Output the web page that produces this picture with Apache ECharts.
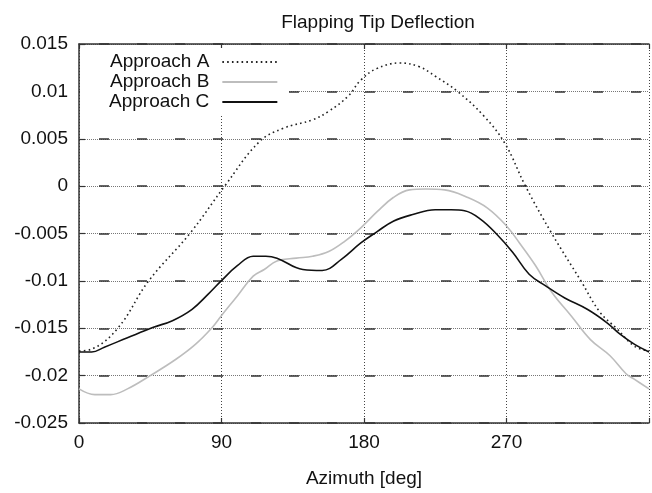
<!DOCTYPE html>
<html>
<head>
<meta charset="utf-8">
<script src="https://cdn.jsdelivr.net/npm/echarts@6/dist/echarts.min.js"></script>
<style>html,body{margin:0;padding:0;background:#fff;}#c{width:652px;height:493px;}</style>
</head>
<body>
<div id="c"></div>
<script>
const seriesNames = ['Approach A', 'Approach B', 'Approach C'];
const xTicks = [0, 90, 180, 270];
const yTicks = [-0.025, -0.02, -0.015, -0.01, -0.005, 0, 0.005, 0.01, 0.015];

const xA = [0, 8, 24.5, 44, 70, 92, 114, 129, 147.5, 157.7, 170, 178, 188, 202.6, 215, 225, 239, 255.7, 269, 282, 298.6, 317, 329, 339.4, 350.9, 360];
const yA = [-0.0174, -0.0172, -0.015, -0.010, -0.005, 0.0, 0.0047, 0.0061, 0.0070, 0.0079, 0.0095, 0.0112, 0.0124, 0.0130, 0.0126, 0.0116, 0.0100, 0.0074, 0.0045, 0.0, -0.005, -0.010, -0.0133, -0.015, -0.0169, -0.0174];

const xB = [0, 10, 20, 30.6, 45, 61, 73.5, 83.7, 89.8, 100, 110, 117, 125, 137.3, 147.5, 157.7, 168, 178, 188.3, 198.5, 208.7, 219, 231, 245.5, 257.8, 270, 278.2, 288.4, 298.6, 310.9, 323, 335.4, 345.5, 350.9, 360];
const yB = [-0.0214, -0.0220, -0.0220, -0.0214, -0.0200, -0.0183, -0.0167, -0.0150, -0.0137, -0.0116, -0.0095, -0.0088, -0.0079, -0.0076, -0.0074, -0.0069, -0.0058, -0.0044, -0.0027, -0.0012, -0.0004, -0.0003, -0.0004, -0.0012, -0.0023, -0.0042, -0.0060, -0.0084, -0.0112, -0.0137, -0.0162, -0.0179, -0.0198, -0.0204, -0.0214];

const xC = [0, 8, 16, 30.6, 47, 59, 71.4, 81.6, 89.8, 100, 110, 118, 125, 141.4, 153.6, 165.9, 178, 188.3, 198.5, 210.8, 225, 235, 243.5, 253.7, 264, 274, 284.3, 294.5, 306.8, 321, 333.3, 341.5, 350.9, 360];
const yC = [-0.0175, -0.0175, -0.0170, -0.0160, -0.0149, -0.0142, -0.0130, -0.0114, -0.0100, -0.0084, -0.0074, -0.0074, -0.0076, -0.0088, -0.0089, -0.0077, -0.0060, -0.0048, -0.0037, -0.0030, -0.0025, -0.0025, -0.0026, -0.0035, -0.0051, -0.0070, -0.0093, -0.0105, -0.0118, -0.0130, -0.0144, -0.0156, -0.0167, -0.0175];

function pairs(xs, ys) { return xs.map((x, i) => [x, ys[i]]); }

const FONT = 'Liberation Sans';
const fmtY = v => {
  let best = yTicks.reduce((a, b) => Math.abs(b - v) < Math.abs(a - v) ? b : a);
  return String(best);
};

const chart = echarts.init(document.getElementById('c'), null, {renderer: 'canvas'});
chart.setOption({
  animation: false,
  backgroundColor: '#fff',
  textStyle: {fontFamily: FONT},
  title: {
    text: 'Flapping Tip Deflection',
    left: 373, top: 8, textAlign: 'center',
    textStyle: {fontFamily: FONT, fontSize: 19, fontWeight: 'normal', color: '#111'}
  },
  grid: {left: 79, top: 44, right: -15, bottom: 70, containLabel: false},
  legend: {
    data: seriesNames,
    orient: 'vertical', left: 80, top: 48, align: 'right',
    itemWidth: 55, itemHeight: 10, itemGap: 0,
    padding: [4, 10, 2, 29],
    backgroundColor: '#fff',
    itemStyle: {opacity: 0},
    textStyle: {fontFamily: FONT, fontSize: 19, lineHeight: 20, color: '#111', padding: [0, 8, 0, 0]}
  },
  xAxis: [{
    type: 'value', min: 0, max: 360, interval: 90, position: 'bottom',
    name: 'Azimuth [deg]', nameLocation: 'middle', nameGap: 46,
    nameTextStyle: {fontFamily: FONT, fontSize: 19, color: '#111'},
    axisLine: {show: true, onZero: false, lineStyle: {color: '#333', width: 1.5}},
    axisTick: {show: true, inside: true, length: 5, lineStyle: {color: '#333', width: 1.2}},
    axisLabel: {fontFamily: FONT, fontSize: 19, color: '#111', margin: 10,
      formatter: v => xTicks.indexOf(v) >= 0 ? String(v) : ''},
    splitLine: {show: true, lineStyle: {color: '#444', width: 1, type: [1, 2]}}
  }, {
    type: 'value', min: 0, max: 360, interval: 90, position: 'top',
    axisLine: {show: true, onZero: false, lineStyle: {color: '#333', width: 1.5}},
    axisTick: {show: true, inside: true, length: 5, lineStyle: {color: '#333', width: 1.2}},
    axisLabel: {show: false}, splitLine: {show: false}
  }],
  yAxis: [{
    type: 'value', min: -0.025, max: 0.015, interval: 0.005,
    axisLine: {show: true, onZero: false, lineStyle: {color: '#333', width: 1.5}},
    axisTick: {show: true, inside: true, length: 6, lineStyle: {color: '#333', width: 1.2}},
    axisLabel: {fontFamily: FONT, fontSize: 19, color: '#111', margin: 11, formatter: fmtY},
    splitLine: {show: true, lineStyle: {color: '#777', width: 1, type: [1, 1]}}
  }, {
    type: 'value', min: -0.025, max: 0.015, interval: 0.005, position: 'left',
    axisLine: {show: false, onZero: false}, axisTick: {show: false}, axisLabel: {show: false},
    splitLine: {show: true, lineStyle: {color: '#333', width: 1.5, type: [10, 28], dashOffset: -20}}
  }],
  series: [{
    name: seriesNames[0], type: 'line', data: pairs(xA, yA), smooth: 0.4,
    symbol: 'none', lineStyle: {color: '#222', width: 1.6, type: [1.6, 3.2]}, itemStyle: {color: '#222'}
  }, {
    name: seriesNames[1], type: 'line', data: pairs(xB, yB), smooth: 0.4,
    symbol: 'none', lineStyle: {color: '#bdbdbd', width: 1.6}, itemStyle: {color: '#bdbdbd'}
  }, {
    name: seriesNames[2], type: 'line', data: pairs(xC, yC), smooth: 0.4,
    symbol: 'none', lineStyle: {color: '#111', width: 1.6}, itemStyle: {color: '#111'}
  }]
});
</script>
</body>
</html>
